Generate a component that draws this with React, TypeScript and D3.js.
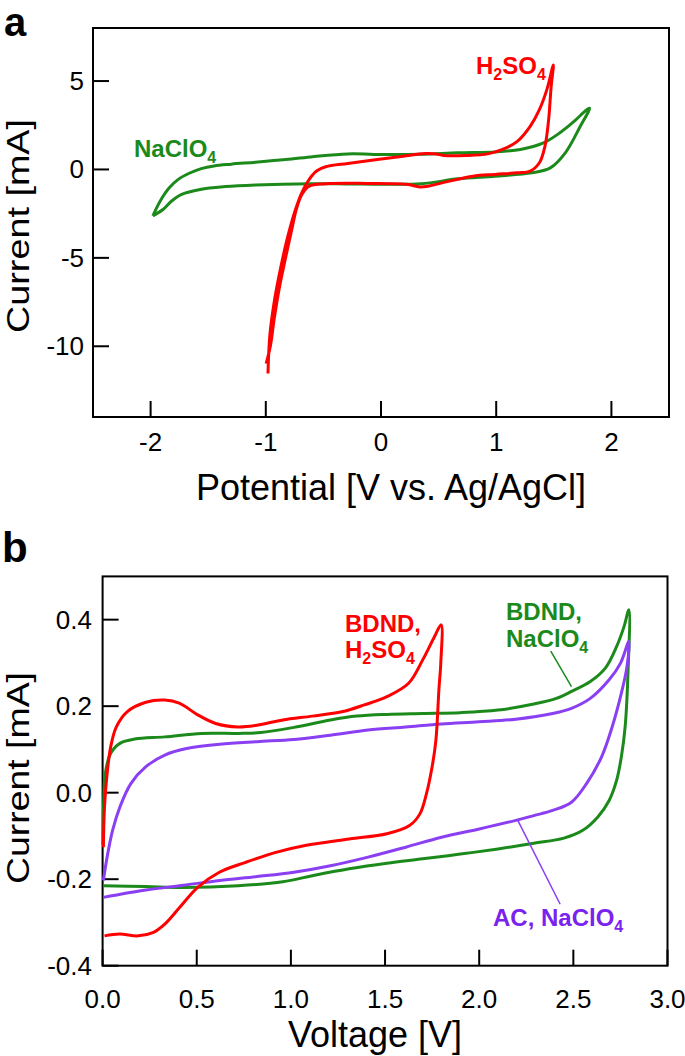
import React from "react";
import * as d3 from "d3";

// ---------- Panel a data (Potential [V vs Ag/AgCl], Current [mA]) ----------
const naclo4A_E = [-1.98, -1.95, -1.9, -1.84, -1.76, -1.66, -1.56, -1.45, -1.3, -1.09, -0.85, -0.61, -0.29, 0.03, 0.35, 0.67, 0.99, 1.21, 1.41, 1.53, 1.66, 1.81, 1.73, 1.6, 1.47, 1.31, 0.99, 0.67, 0.35, 0.03, -0.3, -0.61, -1.09, -1.35, -1.57, -1.73, -1.82, -1.89, -1.98];
const naclo4A_I = [-2.63, -2.2, -1.6, -1.05, -0.56, -0.2, 0.05, 0.2, 0.3, 0.41, 0.55, 0.71, 0.88, 0.84, 0.86, 0.94, 0.99, 1.13, 1.5, 1.97, 2.63, 3.47, 2.44, 0.94, 0.09, -0.19, -0.38, -0.53, -0.81, -0.84, -0.82, -0.81, -0.88, -0.97, -1.13, -1.41, -1.8, -2.25, -2.63];

const h2so4A_E = [-0.981, -0.965, -0.927, -0.879, -0.815, -0.751, -0.687, -0.623, -0.559, -0.48, -0.288, -0.032, 0.192, 0.384, 0.48, 0.543, 0.735, 0.927, 1.055, 1.183, 1.295, 1.375, 1.439, 1.496, 1.477, 1.455, 1.423, 1.375, 1.295, 1.183, 0.991, 0.799, 0.575, 0.416, 0.336, 0.224, -0.128, -0.48, -0.623, -0.687, -0.735, -0.774, -0.831, -0.879, -0.927, -0.959, -0.997];
const h2so4A_I = [-11.54, -9.38, -7.5, -5.82, -3.94, -2.44, -1.31, -0.56, -0.09, 0.15, 0.34, 0.56, 0.75, 0.9, 0.88, 0.79, 0.79, 0.88, 1.13, 1.59, 2.44, 3.38, 4.5, 5.91, 4.69, 2.81, 1.31, 0.38, -0.09, -0.19, -0.28, -0.38, -0.69, -0.94, -0.99, -0.84, -0.79, -0.81, -0.94, -1.41, -2.25, -3.38, -5.07, -6.57, -8.44, -9.94, -10.98];

const xTicksA = [-2, -1, 0, 1, 2];
const yTicksA = [5, 0, -5, -10];

// ---------- Panel b data (Voltage [V], Current [mA]) ----------
const bdndH2so4_V = [0.004, 0.01, 0.024, 0.043, 0.073, 0.13, 0.23, 0.33, 0.407, 0.505, 0.6, 0.72, 0.82, 0.957, 1.114, 1.27, 1.39, 1.51, 1.625, 1.7, 1.763, 1.798, 1.796, 1.786, 1.77, 1.75, 1.72, 1.685, 1.63, 1.51, 1.31, 1.075, 0.92, 0.76, 0.62, 0.505, 0.41, 0.33, 0.27, 0.19, 0.09, 0.01];
const bdndH2so4_I = [-0.126, -0.033, 0.044, 0.106, 0.152, 0.187, 0.209, 0.214, 0.207, 0.18, 0.16, 0.152, 0.156, 0.168, 0.177, 0.187, 0.203, 0.222, 0.253, 0.307, 0.361, 0.388, 0.3, 0.238, 0.121, 0.06, -0.002, -0.049, -0.076, -0.095, -0.107, -0.122, -0.138, -0.161, -0.184, -0.219, -0.265, -0.304, -0.323, -0.331, -0.327, -0.331];

const bdndNaclo4_V = [0.002, 0.006, 0.014, 0.043, 0.092, 0.171, 0.33, 0.525, 0.72, 0.84, 1.016, 1.21, 1.35, 1.51, 1.7, 1.9, 2.1, 2.29, 2.41, 2.49, 2.59, 2.67, 2.73, 2.77, 2.795, 2.79, 2.775, 2.755, 2.73, 2.69, 2.63, 2.55, 2.45, 2.29, 2.1, 1.9, 1.7, 1.51, 1.31, 1.114, 0.957, 0.72, 0.43, 0.23, 0.004];
const bdndNaclo4_I = [-0.12, -0.018, 0.044, 0.091, 0.114, 0.124, 0.129, 0.137, 0.137, 0.139, 0.151, 0.168, 0.177, 0.181, 0.183, 0.185, 0.191, 0.205, 0.218, 0.234, 0.257, 0.288, 0.338, 0.385, 0.423, 0.276, 0.152, 0.083, 0.029, -0.018, -0.056, -0.087, -0.105, -0.117, -0.13, -0.142, -0.153, -0.163, -0.176, -0.192, -0.206, -0.215, -0.219, -0.217, -0.215];

const acNaclo4_V = [0.004, 0.024, 0.053, 0.092, 0.15, 0.23, 0.33, 0.446, 0.623, 0.82, 1.016, 1.21, 1.41, 1.61, 1.8, 2.0, 2.195, 2.39, 2.49, 2.59, 2.69, 2.75, 2.795, 2.785, 2.755, 2.706, 2.65, 2.57, 2.49, 2.39, 2.29, 2.195, 2.0, 1.8, 1.61, 1.41, 1.21, 1.016, 0.82, 0.623, 0.43, 0.23, 0.004];
const acNaclo4_I = [-0.203, -0.149, -0.087, -0.033, 0.021, 0.06, 0.087, 0.102, 0.112, 0.118, 0.123, 0.133, 0.145, 0.152, 0.159, 0.164, 0.17, 0.183, 0.195, 0.218, 0.261, 0.299, 0.35, 0.292, 0.23, 0.152, 0.083, 0.021, -0.022, -0.041, -0.053, -0.064, -0.084, -0.103, -0.126, -0.149, -0.169, -0.184, -0.194, -0.203, -0.214, -0.225, -0.242];

const xTicksB = [0, 0.5, 1, 1.5, 2, 2.5, 3];
const yTicksB = [-0.4, -0.2, 0, 0.2, 0.4];

// leader lines (data coords) [x1, y1, x2, y2]
const greenLeaderB = [2.38, 0.327, 2.49, 0.245];
const purpleLeaderB = [2.205, -0.064, 2.43, -0.258];

const RED = "#ff0000";
const GREEN = "#1b8a1b";
const PURPLE = "#8a3ff2";
const PURPLE_TXT = "#7a22ee";
const FONT = "'Liberation Sans', Arial, Helvetica, sans-serif";

function zip(xs: number[], ys: number[]): [number, number][] {
  return xs.map((x, i) => [x, ys[i]] as [number, number]);
}

export default function App() {
  // Panel a scales
  const xA = d3.scaleLinear().domain([-2.5, 2.5]).range([93, 669]);
  const yA = d3.scaleLinear().domain([-14, 8]).range([417, 28]);
  // Panel b scales
  const xB = d3.scaleLinear().domain([0, 3]).range([102.6, 667.5]);
  const yB = d3.scaleLinear().domain([-0.4, 0.5]).range([965.7, 576.4]);

  const lineA = d3
    .line<[number, number]>()
    .x((d) => xA(d[0]))
    .y((d) => yA(d[1]))
    .curve(d3.curveCatmullRom.alpha(0.5));
  const lineB = d3
    .line<[number, number]>()
    .x((d) => xB(d[0]))
    .y((d) => yB(d[1]))
    .curve(d3.curveCatmullRom.alpha(0.5));

  const tickLen = 16;
  const tickFont = 26;
  const titleFont = 36;
  const lblFont = 24;
  const subFont = 16;

  return (
    <svg
      width={685}
      height={1056}
      style={{ position: "absolute", left: 0, top: 0, background: "#fff" }}
      fontFamily={FONT}
    >
      <rect x={0} y={0} width={685} height={1056} fill="#fff" />

      {/* ================= Panel a ================= */}
      <text x={4} y={36} fontSize={40} fontWeight="bold">a</text>
      <rect x={xA(-2.5)} y={yA(8)} width={xA(2.5) - xA(-2.5)} height={yA(-14) - yA(8)} fill="none" stroke="#000" strokeWidth={2} />
      {xTicksA.map((t) => (
        <g key={"xa" + t}>
          <line x1={xA(t)} x2={xA(t)} y1={yA(-14)} y2={yA(-14) - tickLen} stroke="#000" strokeWidth={2} />
          <text x={xA(t)} y={451} fontSize={tickFont} textAnchor="middle">{t < 0 ? "-" + Math.abs(t) : String(t)}</text>
        </g>
      ))}
      {yTicksA.map((t) => (
        <g key={"ya" + t}>
          <line x1={xA(-2.5)} x2={xA(-2.5) + tickLen} y1={yA(t)} y2={yA(t)} stroke="#000" strokeWidth={2} />
          <text x={84} y={yA(t) + 9} fontSize={tickFont} textAnchor="end">{t < 0 ? "-" + Math.abs(t) : String(t)}</text>
        </g>
      ))}
      <text x={391} y={500} fontSize={titleFont} textAnchor="middle">Potential [V vs. Ag/AgCl]</text>
      <text transform="translate(29,226) rotate(-90)" fontSize={32} textAnchor="middle" textLength={214} lengthAdjust="spacingAndGlyphs">Current [mA]</text>

      <path d={lineA(zip(naclo4A_E, naclo4A_I)) || ""} fill="none" stroke={GREEN} strokeWidth={3} strokeLinejoin="round" />
      <path d={lineA(zip(h2so4A_E, h2so4A_I)) || ""} fill="none" stroke={RED} strokeWidth={3} strokeLinejoin="round" />

      <text x={134} y={157} fontSize={lblFont} fontWeight="bold" fill={GREEN}>
        NaClO<tspan fontSize={subFont} dy={6}>4</tspan>
      </text>
      <text x={476} y={74} fontSize={lblFont} fontWeight="bold" fill={RED}>
        H<tspan fontSize={subFont} dy={6}>2</tspan>
        <tspan dy={-6}>SO</tspan>
        <tspan fontSize={subFont} dy={6}>4</tspan>
      </text>

      {/* ================= Panel b ================= */}
      <text x={2} y={562} fontSize={42} fontWeight="bold">b</text>
      <rect x={xB(0)} y={yB(0.5)} width={xB(3) - xB(0)} height={yB(-0.4) - yB(0.5)} fill="none" stroke="#000" strokeWidth={2} />
      {xTicksB.map((t) => (
        <g key={"xb" + t}>
          <line x1={xB(t)} x2={xB(t)} y1={yB(-0.4)} y2={yB(-0.4) - tickLen} stroke="#000" strokeWidth={2} />
          <text x={xB(t)} y={1008} fontSize={tickFont} textAnchor="middle">{t.toFixed(1)}</text>
        </g>
      ))}
      {yTicksB.map((t) => (
        <g key={"yb" + t}>
          <line x1={xB(0)} x2={xB(0) + tickLen} y1={yB(t)} y2={yB(t)} stroke="#000" strokeWidth={2} />
          <text x={92} y={yB(t) + 9} fontSize={tickFont} textAnchor="end">{t.toFixed(1)}</text>
        </g>
      ))}
      <text x={375} y={1047} fontSize={titleFont} textAnchor="middle">Voltage [V]</text>
      <text transform="translate(29,778) rotate(-90)" fontSize={32} textAnchor="middle" textLength={212} lengthAdjust="spacingAndGlyphs">Current [mA]</text>

      <path d={lineB(zip(bdndNaclo4_V, bdndNaclo4_I)) || ""} fill="none" stroke={GREEN} strokeWidth={3} strokeLinejoin="round" />
      <path d={lineB(zip(acNaclo4_V, acNaclo4_I)) || ""} fill="none" stroke={PURPLE} strokeWidth={3} strokeLinejoin="round" />
      <path d={lineB(zip(bdndH2so4_V, bdndH2so4_I)) || ""} fill="none" stroke={RED} strokeWidth={3} strokeLinejoin="round" />

      <line x1={xB(greenLeaderB[0])} y1={yB(greenLeaderB[1])} x2={xB(greenLeaderB[2])} y2={yB(greenLeaderB[3])} stroke={GREEN} strokeWidth={1.5} />
      <line x1={xB(purpleLeaderB[0])} y1={yB(purpleLeaderB[1])} x2={xB(purpleLeaderB[2])} y2={yB(purpleLeaderB[3])} stroke={PURPLE} strokeWidth={1.5} />

      <text x={345} y={632} fontSize={lblFont} fontWeight="bold" fill={RED}>BDND,</text>
      <text x={345} y={658} fontSize={lblFont} fontWeight="bold" fill={RED}>
        H<tspan fontSize={subFont} dy={6}>2</tspan>
        <tspan dy={-6}>SO</tspan>
        <tspan fontSize={subFont} dy={6}>4</tspan>
      </text>
      <text x={506} y={620} fontSize={lblFont} fontWeight="bold" fill={GREEN}>BDND,</text>
      <text x={506} y={647} fontSize={lblFont} fontWeight="bold" fill={GREEN}>
        NaClO<tspan fontSize={subFont} dy={6}>4</tspan>
      </text>
      <text x={493} y={926} fontSize={lblFont} fontWeight="bold" fill={PURPLE_TXT}>
        AC, NaClO<tspan fontSize={subFont} dy={6}>4</tspan>
      </text>
    </svg>
  );
}
